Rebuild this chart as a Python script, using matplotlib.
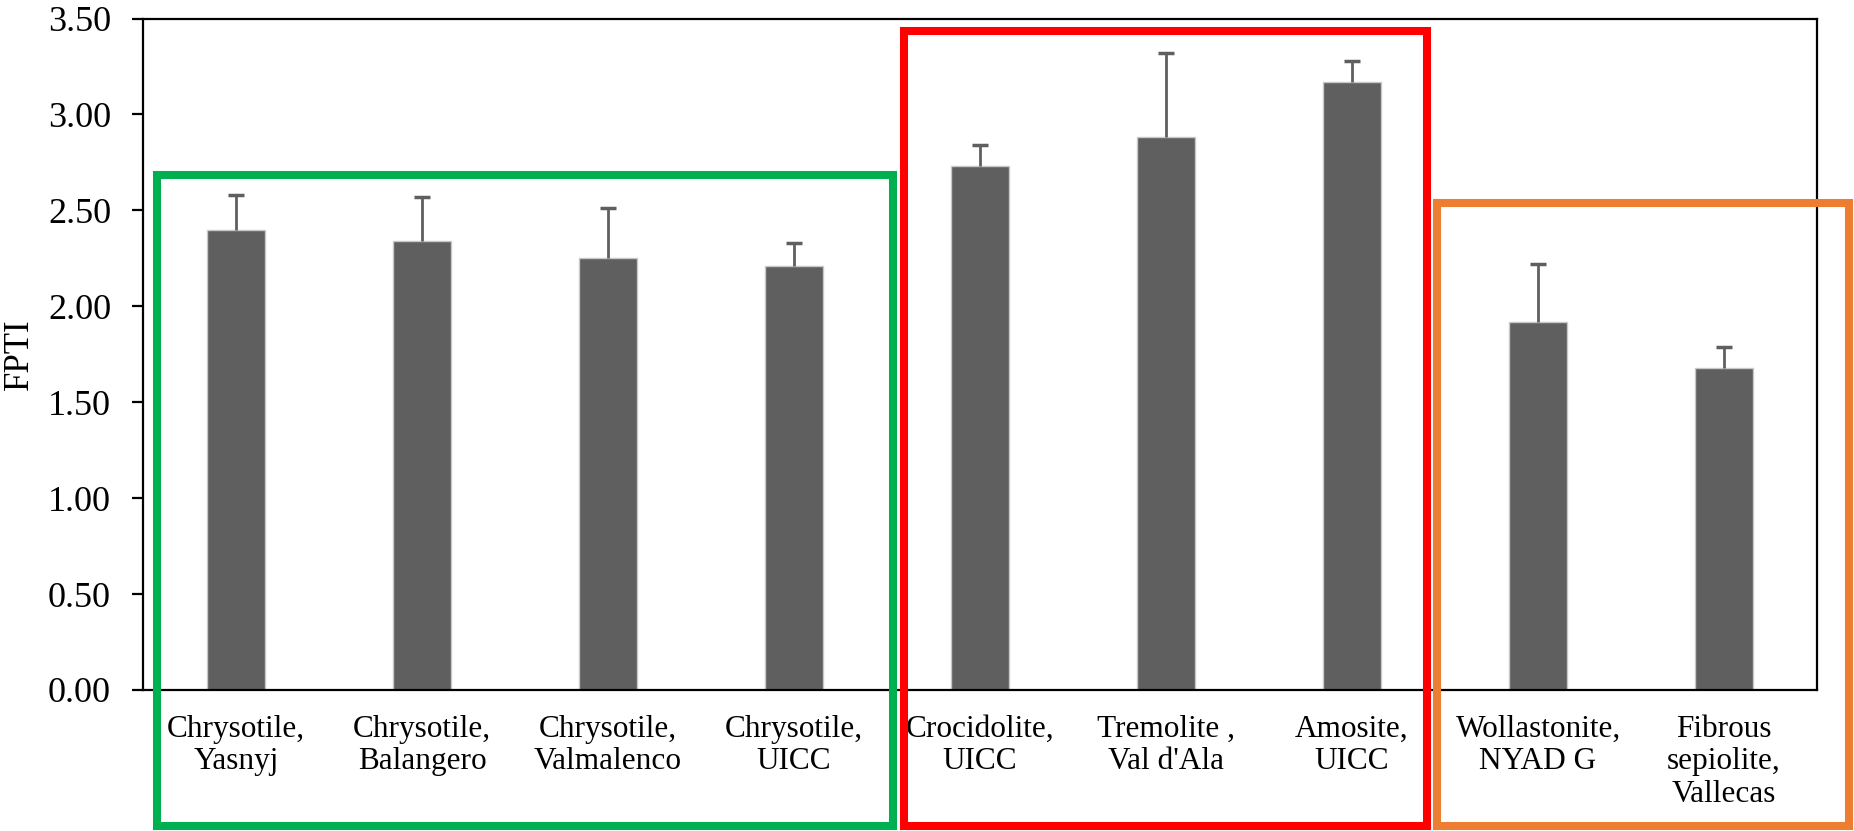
import matplotlib.pyplot as plt
from matplotlib.patches import Rectangle
from matplotlib.ticker import FormatStrFormatter

plt.rcParams['font.family'] = ['Liberation Serif', 'DejaVu Serif']

# ---------- data ----------
samples = ["Chrysotile,\nYasnyj", "Chrysotile,\nBalangero", "Chrysotile,\nValmalenco",
           "Chrysotile,\nUICC", "Crocidolite,\nUICC", "Tremolite ,\nVal d'Ala",
           "Amosite,\nUICC", "Wollastonite,\nNYAD G", "Fibrous\nsepiolite,\nVallecas"]
fpti = [2.40, 2.34, 2.25, 2.21, 2.73, 2.88, 3.17, 1.92, 1.68]
fpti_err = [0.18, 0.23, 0.26, 0.12, 0.11, 0.44, 0.11, 0.30, 0.11]

W, H = 1854, 831
fig = plt.figure(figsize=(W / 100, H / 100), dpi=100)
ax = fig.add_axes([143 / W, 1 - 690 / H, (1817 - 143) / W, (690 - 18.5) / H])

x = range(len(samples))
bars = ax.bar(x, fpti, width=0.31, color='#5f5f5f', edgecolor='#c8c8c8', linewidth=1.0,
              yerr=[[0] * len(fpti_err), fpti_err],
              error_kw=dict(ecolor='#5f5f5f', elinewidth=2, capsize=6, capthick=2.5))
# only the upper half of the error bar is shown -> hide the lower cap
bars.errorbar.lines[1][0].set_visible(False)

ax.set_xlim(-0.5, len(samples) - 0.5)
ax.set_ylim(0, 3.5)
ax.set_yticks([0, 0.5, 1.0, 1.5, 2.0, 2.5, 3.0, 3.5])
ax.yaxis.set_major_formatter(FormatStrFormatter('%.2f'))
ax.set_xticks(list(x))
ax.set_xticklabels(samples, fontsize=22.5, linespacing=1.15)
ax.tick_params(axis='x', length=0, pad=18)
ax.tick_params(axis='y', labelsize=26, length=8, width=1.6, direction='out', pad=15)
ylab = ax.set_ylabel('FPTI', fontsize=25)
ylab.set_verticalalignment('center')
ax.yaxis.set_label_coords((19 - 143) / 1674, 0.5)
for sp in ax.spines.values():
    sp.set_linewidth(1.6)
    sp.set_color('black')

# ---------- group boxes (figure pixel coords) ----------
boxes = [(156.7, 175, 893, 826, '#00b050'),
         (904, 30.5, 1427, 826, '#ff0000'),
         (1437, 203, 1849, 826, '#ed7d31')]
for x0, y0, x1, y1, c in boxes:
    fig.patches.append(Rectangle((x0 / W, 1 - y1 / H), (x1 - x0) / W, (y1 - y0) / H,
                                 transform=fig.transFigure, fill=False,
                                 edgecolor=c, linewidth=5.8, zorder=10))

fig.savefig('out.png', dpi=100)
